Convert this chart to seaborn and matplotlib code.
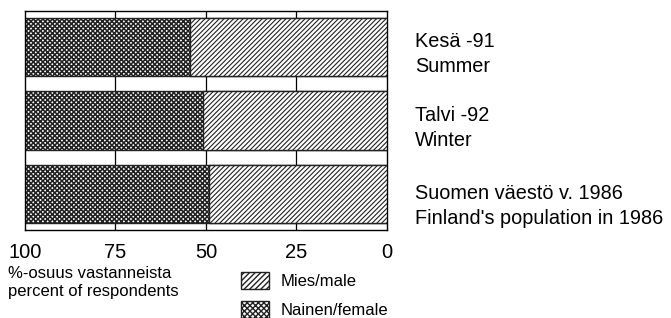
import pandas as pd
import matplotlib
matplotlib.use('Agg')
import matplotlib.pyplot as plt
import matplotlib.patches as mpatches
import seaborn as sns

# data (share of males, %; females = 100 - males)
groups = ['Kesä -91\nSummer', 'Talvi -92\nWinter',
          'Suomen väestö v. 1986\nFinland\'s population in 1986']
male_pct = [54.4, 50.7, 49.1]
female_pct = [100 - m for m in male_pct]
x_ticks = [100, 75, 50, 25, 0]

sns.set_style('white')
plt.rcParams['font.family'] = ['Liberation Sans', 'DejaVu Sans']
plt.rcParams['text.color'] = 'black'
plt.rcParams['xtick.color'] = 'black'
plt.rcParams['ytick.color'] = 'black'

df = pd.DataFrame({'group': groups, 'male': male_pct, 'female': female_pct})
df['total'] = df['male'] + df['female']

fig = plt.figure(figsize=(6.71, 3.18), dpi=100)
ax = fig.add_axes([25 / 671, 88 / 318, 362 / 671, 219 / 318])

# vertical reference lines, visible only between the bars
for v in [25, 50, 75]:
    ax.axvline(v, color='black', lw=0.9, zorder=0)

# female part spans 100 -> boundary: full bar first, male bar overlaid from 0
sns.barplot(data=df, y='group', x='total', orient='h', color='white',
            edgecolor='black', linewidth=1, width=0.79, saturation=1,
            ax=ax, zorder=2)
n = len(ax.patches)
sns.barplot(data=df, y='group', x='male', orient='h', color='white',
            edgecolor='black', linewidth=1, width=0.79, saturation=1,
            ax=ax, zorder=3)
for i, p in enumerate(ax.patches):
    if i < n:
        p.set_hatch('xxxxxxx')
        p.set_hatch_linewidth(1.15)
        p.set_edgecolor('#222222')
    else:
        p.set_hatch('///////')
        p.set_hatch_linewidth(0.8)
        p.set_edgecolor('#222222')

ax.set_xlim(100, 0)
ax.set_ylim(2.49, -0.49)
ax.set_xticks(x_ticks)
ax.set_xticklabels([str(t) for t in x_ticks], fontsize=14.5)
ax.yaxis.tick_right()
ax.set_yticks([0.03, 1.03, 2.1])
ax.set_yticklabels(groups, fontsize=14.3, ha='left', linespacing=1.4)
ax.tick_params(axis='both', length=0)
ax.tick_params(axis='x', pad=9)
ax.tick_params(axis='y', pad=20)
ax.set_xlabel('')
ax.set_ylabel('')
for s in ax.spines.values():
    s.set_visible(True)
    s.set_color('black')
    s.set_linewidth(1)

fig.text(8 / 671, 1 - 266 / 318, '%-osuus vastanneista\npercent of respondents',
         ha='left', va='top', fontsize=12, linespacing=1.25)

handles = [mpatches.Patch(facecolor='white', edgecolor='#222222', hatch='//////', lw=1),
           mpatches.Patch(facecolor='white', edgecolor='#222222', hatch='xxxxxx', lw=1)]
fig.legend(handles, ['Mies/male', 'Nainen/female'], loc='upper left',
           bbox_to_anchor=(241 / 671, 1 - 272 / 318), frameon=False,
           fontsize=12, borderpad=0, borderaxespad=0, handlelength=1.65,
           handleheight=1.15, handletextpad=0.75, labelspacing=0.75)

fig.savefig('out.png', dpi=100)
